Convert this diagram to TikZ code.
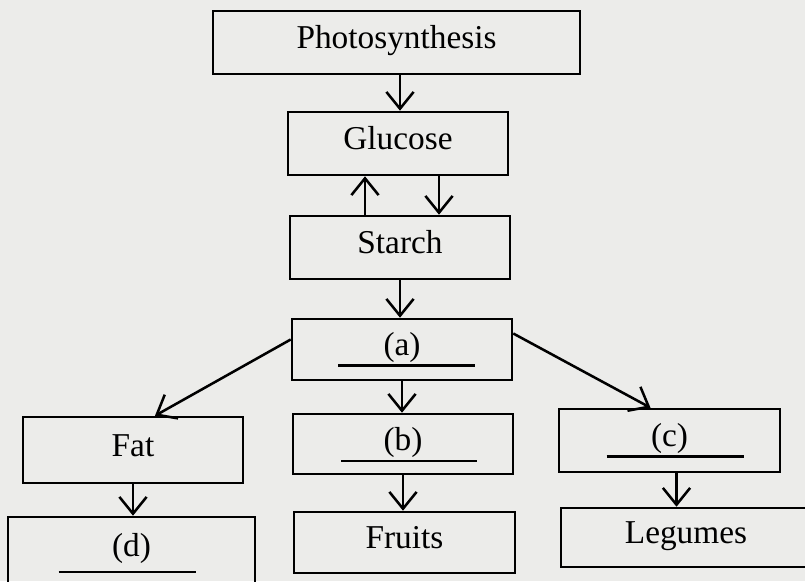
\documentclass[tikz,border=0pt]{standalone}
\usepackage{fontspec}
\setmainfont{Liberation Serif}
\usetikzlibrary{arrows.meta}
\definecolor{paper}{RGB}{236,236,234}
\begin{document}
\begin{tikzpicture}[x=0.025cm, y=-0.025cm,
      line width=1.8pt,
      box/.style = {draw, rectangle, inner sep=0pt, minimum height=1.575cm,
                    text height=0.45cm, text depth=0.15cm,
                    font=\fontsize{23.7}{28}\selectfont},
      arrow/.style = {-{Straight Barb[length=0.42cm, width=0.68cm, line width=1.8pt]}},
      blank/.style = {line width=1.6pt}]
    \clip (0,0) rectangle (805,581);
    \fill[paper] (0,0) rectangle (805,581);

    % nodes
    \node[box, minimum width=9.175cm] (photo) at (396.5, 42.5) {Photosynthesis};
    \node[box, minimum width=5.5cm] (glucose) at (398, 143.5) {Glucose};
    \node[box, minimum width=5.5cm] (starch) at (400, 247.5) {Starch};
    \node[box, minimum width=5.5cm, minimum height=1.525cm] (a) at (402, 349.5) {(a)};
    \node[box, minimum width=5.5cm, minimum height=1.65cm] (fat) at (133, 450) {Fat};
    \node[box, minimum width=5.5cm, minimum height=1.5cm] (b) at (403, 444) {(b)};
    \node[box, minimum width=5.525cm] (c) at (669.5, 440.5) {(c)};
    \node[box, minimum width=6.175cm, minimum height=1.65cm] (d) at (131.5, 550) {(d)};
    \node[box, minimum width=5.525cm, minimum height=1.525cm] (fruits) at (404.5, 542.5) {Fruits};
    \node[box, minimum width=6.25cm, minimum height=1.475cm] (legumes) at (686, 537.5) {Legumes};

    % blanks to fill in
    \draw[blank] ([shift={(-64,16)}]a.center) -- ++(137,0);
    \draw[blank] ([shift={(-62,17)}]b.center) -- ++(136,0);
    \draw[blank] ([shift={(-63,16)}]c.center) -- ++(137,0);
    \draw[blank] ([shift={(-73,22)}]d.center) -- ++(137,0);

    % directed edges
    \draw[arrow] ([shift={(3.5,0)}]photo.south) -- ([shift={(3.5,0)}]photo.south |- glucose.north);
    \draw[arrow] ([shift={(41,0)}]glucose.south) -- ([shift={(41,0)}]glucose.south |- starch.north);
    \draw[arrow] ([shift={(-35,0)}]starch.north) -- ([shift={(-35,0)}]starch.north |- glucose.south);
    \draw[arrow] (starch.south) -- (starch.south |- a.north);
    \draw[arrow] ([shift={(0,-10)}]a.west) -- ([shift={(22,0)}]fat.north);
    \draw[arrow] ([shift={(0,-16)}]a.east) -- ([shift={(-19,0)}]c.north);
    \draw[arrow] (a.south) -- (a.south |- b.north);
    \draw[arrow] (b.south) -- (b.south |- fruits.north);
    \draw[arrow] (fat.south) -- (fat.south |- d.north);
    \draw[arrow] ([shift={(7,0)}]c.south) -- ([shift={(7,0)}]c.south |- legumes.north);
  \end{tikzpicture}
\end{document}
